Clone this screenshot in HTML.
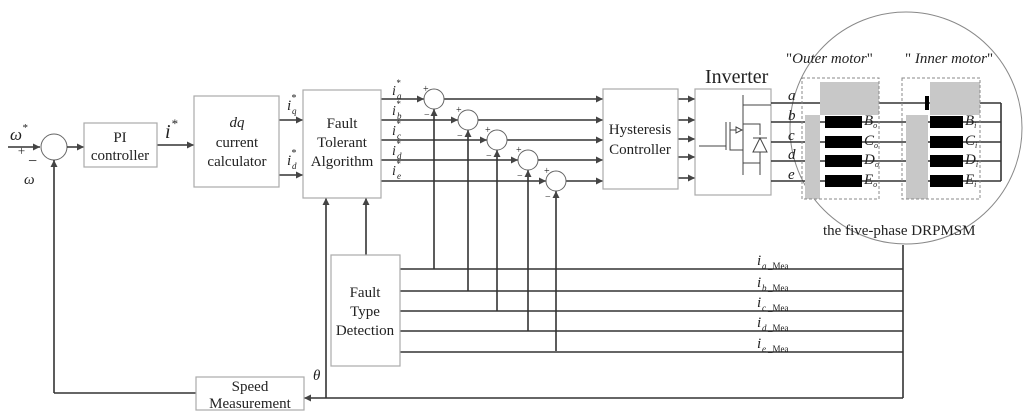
<!DOCTYPE html>
<html><head><meta charset="utf-8"><style>
body{margin:0;background:#fff}
svg{display:block}
text{font-family:"Liberation Serif",serif;fill:#222}
.i{font-style:italic}
</style></head><body>
<svg width="1024" height="418" viewBox="0 0 1024 418" xmlns="http://www.w3.org/2000/svg">
<defs>
<marker id="ar" markerWidth="8" markerHeight="8" refX="7" refY="4" orient="auto" markerUnits="userSpaceOnUse">
<path d="M0,0.5 L7,4 L0,7.5 Z" fill="#444"/></marker>
</defs>
<g stroke="#333" stroke-width="1.6" fill="none">
<line x1="8" y1="147" x2="40" y2="147" marker-end="url(#ar)"/>
<circle cx="54" cy="147" r="13" stroke="#666" stroke-width="1"/>
<line x1="67" y1="147" x2="84" y2="147" marker-end="url(#ar)"/>
<line x1="157" y1="145" x2="194" y2="145" marker-end="url(#ar)"/>
<line x1="279" y1="120" x2="303" y2="120" marker-end="url(#ar)"/>
<line x1="279" y1="175" x2="303" y2="175" marker-end="url(#ar)"/>
<line x1="381" y1="99" x2="424" y2="99" marker-end="url(#ar)"/>
<line x1="444" y1="99" x2="603" y2="99" marker-end="url(#ar)"/>
<line x1="381" y1="120" x2="458" y2="120" marker-end="url(#ar)"/>
<line x1="478" y1="120" x2="603" y2="120" marker-end="url(#ar)"/>
<line x1="381" y1="140" x2="487" y2="140" marker-end="url(#ar)"/>
<line x1="507" y1="140" x2="603" y2="140" marker-end="url(#ar)"/>
<line x1="381" y1="160" x2="518" y2="160" marker-end="url(#ar)"/>
<line x1="538" y1="160" x2="603" y2="160" marker-end="url(#ar)"/>
<line x1="381" y1="181" x2="546" y2="181" marker-end="url(#ar)"/>
<line x1="566" y1="181" x2="603" y2="181" marker-end="url(#ar)"/>
<line x1="434" y1="269" x2="434" y2="109" marker-end="url(#ar)"/>
<line x1="468" y1="291" x2="468" y2="130" marker-end="url(#ar)"/>
<line x1="497" y1="311" x2="497" y2="150" marker-end="url(#ar)"/>
<line x1="528" y1="331" x2="528" y2="170" marker-end="url(#ar)"/>
<line x1="556" y1="351" x2="556" y2="191" marker-end="url(#ar)"/>
<line x1="671" y1="99" x2="695" y2="99" marker-end="url(#ar)"/>
<line x1="671" y1="120" x2="695" y2="120" marker-end="url(#ar)"/>
<line x1="671" y1="139" x2="695" y2="139" marker-end="url(#ar)"/>
<line x1="671" y1="157" x2="695" y2="157" marker-end="url(#ar)"/>
<line x1="671" y1="178" x2="695" y2="178" marker-end="url(#ar)"/>
<line x1="396" y1="269" x2="903" y2="269"/>
<line x1="396" y1="291" x2="903" y2="291"/>
<line x1="400" y1="311" x2="903" y2="311"/>
<line x1="400" y1="331" x2="903" y2="331"/>
<line x1="396" y1="352" x2="903" y2="352"/>
<line x1="903" y1="245" x2="903" y2="398"/>
<line x1="903" y1="398" x2="304" y2="398" marker-end="url(#ar)"/>
<line x1="196" y1="393" x2="54" y2="393"/>
<line x1="54" y1="393" x2="54" y2="160" marker-end="url(#ar)"/>
<line x1="326" y1="398" x2="326" y2="198" marker-end="url(#ar)"/>
<line x1="366" y1="255" x2="366" y2="198" marker-end="url(#ar)"/>
</g>
<g stroke="#666" stroke-width="1" fill="#fff">
<circle cx="434" cy="99" r="10"/><circle cx="468" cy="120" r="10"/><circle cx="497" cy="140" r="10"/><circle cx="528" cy="160" r="10"/><circle cx="556" cy="181" r="10"/>
</g>
<g fill="#fff" stroke="#aaa" stroke-width="1.2">
<rect x="84" y="123" width="73" height="44"/>
<rect x="194" y="96" width="85" height="91"/>
<rect x="303" y="90" width="78" height="108"/>
<rect x="603" y="89" width="75" height="100"/>
<rect x="695" y="89" width="76" height="106"/>
<rect x="331" y="255" width="69" height="111"/>
<rect x="196" y="377" width="108" height="33"/>
</g>
<g font-size="15" text-anchor="middle">
<text x="120" y="142">PI</text><text x="120" y="160">controller</text>
<text x="237" y="127" class="i">dq</text><text x="237" y="147">current</text><text x="237" y="166">calculator</text>
<text x="342" y="128">Fault</text><text x="342" y="147">Tolerant</text><text x="342" y="166">Algorithm</text>
<text x="640" y="134">Hysteresis</text><text x="640" y="154">Controller</text>
<text x="365" y="297">Fault</text><text x="365" y="316">Type</text><text x="365" y="335">Detection</text>
<text x="250" y="391">Speed</text><text x="250" y="408">Measurement</text>
</g>
<text x="705" y="83" font-size="20">Inverter</text>
<g stroke="#444" stroke-width="1" fill="none">
<polyline points="743,95 743,175"/>
<polyline points="743,105 771,105"/>
<polyline points="743,163 760,163 760,175"/>
<polyline points="743,124 760,124 760,135"/>
<polyline points="730,122 730,150 743,150"/>
<polyline points="730,130 736,130"/>
<line x1="726" y1="122" x2="726" y2="150"/>
<polyline points="699,146 726,146"/>
<path d="M736,127 L742,130 L736,133 Z"/>
<path d="M753,152 L760,138 L767,152 Z"/><line x1="753" y1="138" x2="767" y2="138"/>
<line x1="760" y1="152" x2="760" y2="163"/>
</g>
<circle cx="906" cy="128" r="116" fill="#fff" stroke="#888" stroke-width="1"/>
<g stroke="#333" stroke-width="1.6">
<line x1="771" y1="103" x2="1001" y2="103"/>
<line x1="771" y1="122" x2="1001" y2="122"/>
<line x1="771" y1="142" x2="1001" y2="142"/>
<line x1="771" y1="161" x2="1001" y2="161"/>
<line x1="771" y1="181" x2="1001" y2="181"/>
<line x1="1001" y1="103" x2="1001" y2="181"/>
</g>
<g fill="#c8c8c8">
<rect x="820" y="82" width="59" height="33"/><rect x="805" y="115" width="15" height="84"/>
<rect x="930" y="82" width="50" height="33"/><rect x="906" y="115" width="22" height="84"/>
</g>
<g fill="#000">
<rect x="825" y="116" width="37" height="12"/><rect x="825" y="136" width="37" height="12"/><rect x="825" y="155" width="37" height="12"/><rect x="825" y="175" width="37" height="12"/>
<rect x="930" y="116" width="33" height="12"/><rect x="930" y="136" width="33" height="12"/><rect x="930" y="155" width="33" height="12"/><rect x="930" y="175" width="33" height="12"/>
<rect x="925" y="96" width="4" height="14"/>
</g>
<g fill="none" stroke="#888" stroke-dasharray="3,2" stroke-width="1">
<rect x="802" y="78" width="77" height="121"/><rect x="902" y="78" width="78" height="121"/>
</g>
<g font-size="15" class="i">
<text x="788" y="100">a</text><text x="788" y="120">b</text><text x="788" y="140">c</text><text x="788" y="159">d</text><text x="788" y="179">e</text>
<text x="864" y="125">B<tspan font-size="8" dy="3">o</tspan></text><text x="864" y="145">C<tspan font-size="8" dy="3">o</tspan></text><text x="864" y="164">D<tspan font-size="8" dy="3">o</tspan></text><text x="864" y="184">E<tspan font-size="8" dy="3">o</tspan></text>
<text x="965" y="125">B<tspan font-size="8" dy="3">i</tspan></text><text x="965" y="145">C<tspan font-size="8" dy="3">i</tspan></text><text x="965" y="164">D<tspan font-size="8" dy="3">i</tspan></text><text x="965" y="184">E<tspan font-size="8" dy="3">i</tspan></text>
</g>
<text x="786" y="63" font-size="15">"<tspan class="i">Outer motor</tspan>"</text>
<text x="905" y="63" font-size="15">" <tspan class="i">Inner motor</tspan>"</text>
<text x="823" y="235" font-size="15">the five-phase DRPMSM</text>
<g class="i">
<text x="10" y="140" font-size="17">ω</text><text x="22" y="131" font-size="11">*</text>
<text x="17" y="155" font-size="13">+</text><text x="27" y="166" font-size="16">−</text>
<text x="24" y="184" font-size="15">ω</text>
<text x="165" y="138" font-size="20">i</text><text x="171" y="128" font-size="13">*</text>
<text x="287" y="110" font-size="15">i</text><text x="292" y="114" font-size="9">q</text><text x="291" y="101" font-size="10">*</text>
<text x="287" y="165" font-size="15">i</text><text x="292" y="169" font-size="9">d</text><text x="291" y="156" font-size="10">*</text>
<text x="392" y="95" font-size="14">i</text><text x="397" y="99" font-size="9">a</text><text x="396" y="86" font-size="9">*</text>
<text x="392" y="115" font-size="14">i</text><text x="397" y="119" font-size="9">b</text><text x="396" y="107" font-size="9">*</text>
<text x="392" y="135" font-size="14">i</text><text x="397" y="139" font-size="9">c</text><text x="396" y="127" font-size="9">*</text>
<text x="392" y="155" font-size="14">i</text><text x="397" y="159" font-size="9">d</text><text x="396" y="147" font-size="9">*</text>
<text x="392" y="175" font-size="14">i</text><text x="397" y="179" font-size="9">e</text><text x="396" y="167" font-size="9">*</text>
<text x="313" y="380" font-size="15">θ</text>
<text x="757" y="265" font-size="15">i</text><text x="762" y="269" font-size="9">a</text>
<text x="757" y="287" font-size="15">i</text><text x="762" y="291" font-size="9">b</text>
<text x="757" y="307" font-size="15">i</text><text x="762" y="311" font-size="9">c</text>
<text x="757" y="327" font-size="15">i</text><text x="762" y="331" font-size="9">d</text>
<text x="757" y="348" font-size="15">i</text><text x="762" y="352" font-size="9">e</text>
</g>
<g font-size="9">
<text x="768" y="269">_Mea</text><text x="768" y="291">_Mea</text><text x="768" y="311">_Mea</text><text x="768" y="331">_Mea</text><text x="768" y="352">_Mea</text>
</g>
<g font-size="10">
<text x="423" y="92">+</text><text x="456" y="113">+</text><text x="485" y="133">+</text><text x="516" y="153">+</text><text x="544" y="174">+</text>
<text x="424" y="118">−</text><text x="457" y="139">−</text><text x="486" y="159">−</text><text x="517" y="179">−</text><text x="545" y="200">−</text>
</g>
</svg>
</body></html>
